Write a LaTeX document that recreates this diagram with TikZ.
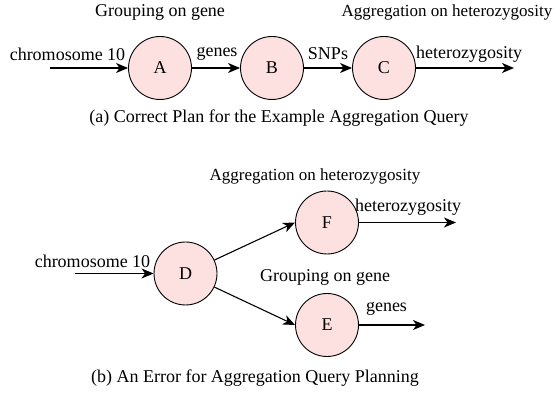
\documentclass[tikz,border=0pt]{standalone}
\usepackage{fontspec}
\setmainfont{Liberation Serif}
\usetikzlibrary{arrows.meta}
\definecolor{opfill}{RGB}{253,225,225}
\begin{document}
\begin{tikzpicture}[x=1pt,y=-1pt,
  every node/.style={font=\fontsize{18}{21}\selectfont, inner sep=1pt},
  op/.style={circle, draw=black, line width=0.9pt, fill=opfill, minimum size=63pt, inner sep=0pt},
  flow/.style={line width=1.1pt, -{Stealth[length=12pt, width=10pt, inset=3.5pt]}},
  lbl/.style={},
  head/.style={font=\fontsize{17}{20}\selectfont}]
\useasboundingbox (0,0) rectangle (555,395);

% (a) correct plan
\node[op] (A) at (160,68) {A};
\node[op] (B) at (272,68) {B};
\node[op] (C) at (384,68) {C};
\coordinate (ain) at (50,68);
\coordinate (aout) at (514,68);
\draw[flow] (ain) -- (A);
\draw[flow] (A) -- (B);
\draw[flow] (B) -- (C);
\draw[flow] (C) -- (aout);
\node[lbl] (tA) at (160,12) {Grouping on gene};
\node[head] (tC) at (447,12) {Aggregation on heterozygosity};
\node[lbl] (chA) at (67.5,54) {chromosome 10};
\node[lbl] (gA) at (217,54) {genes};
\node[lbl] (sA) at (328,54) {SNPs};
\node[lbl, anchor=west] (hA) at (415,54) {heterozygosity};
\node[lbl] (capa) at (279,118) {(a) Correct Plan for the Example Aggregation Query};

% (b) erroneous plan
\node[op] (D) at (185.5,273.5) {D};
\node[op] (F) at (327,222.5) {F};
\node[op] (E) at (327,325) {E};
\coordinate (bin) at (75,273.5);
\coordinate (fout) at (456,222.5);
\coordinate (eout) at (425,325);
\draw[flow] (bin) -- (D);
\draw[flow] (D) -- (F.west);
\draw[flow] (D) -- (E.west);
\draw[flow] (F) -- (fout);
\draw[flow] (E) -- (eout);
\node[head] (tF) at (315,176) {Aggregation on heterozygosity};
\node[lbl] (chD) at (92.5,261) {chromosome 10};
\node[lbl, anchor=west] (hF) at (354,207) {heterozygosity};
\node[lbl] (tE) at (325,277) {Grouping on gene};
\node[lbl] (gE) at (386.5,309) {genes};
\node[lbl] (capb) at (255,378) {(b) An Error for Aggregation Query Planning};
\end{tikzpicture}
\end{document}
